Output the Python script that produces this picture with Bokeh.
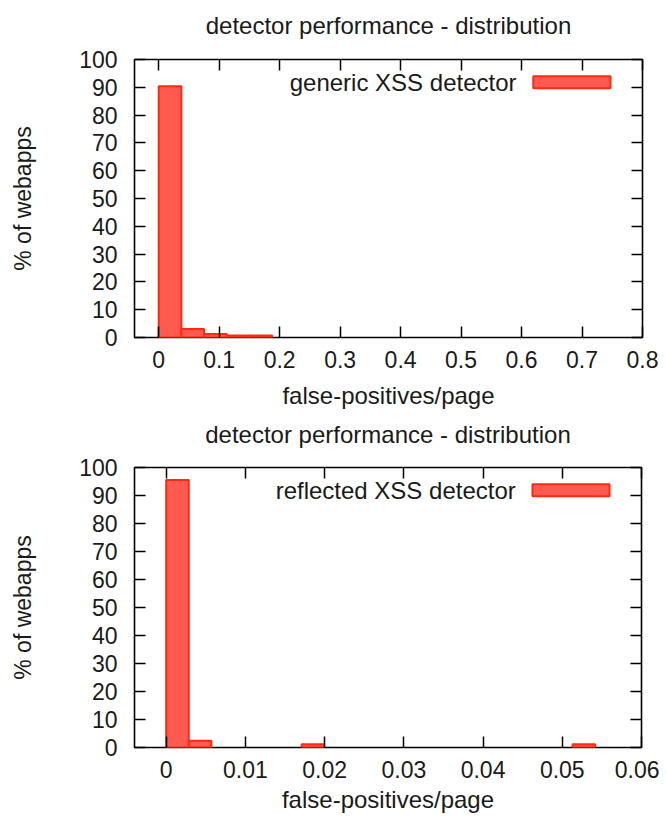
from bokeh.plotting import figure
from bokeh.layouts import column
from bokeh.models import LinearAxis, FixedTicker, Range1d, Label, BoxAnnotation, CustomJSTickFormatter
from bokeh.embed import file_html
from bokeh.resources import INLINE

# ---- data ----
title_text = "detector performance - distribution"
x_label = "false-positives/page"
y_label = "% of webapps"

# generic XSS detector
gen_left = [0.0, 0.0375, 0.075, 0.1125, 0.15]
gen_right = [0.0375, 0.075, 0.1125, 0.15, 0.1875]
gen_pct = [90.4, 3.1, 1.3, 0.7, 0.7]
gen_xticks = [0, 0.1, 0.2, 0.3, 0.4, 0.5, 0.6, 0.7, 0.8]
gen_xtick_labels = ["0", "0.1", "0.2", "0.3", "0.4", "0.5", "0.6", "0.7", "0.8"]

# reflected XSS detector
ref_left = [0.0, 0.00285, 0.0171, 0.0513]
ref_right = [0.00285, 0.0057, 0.01995, 0.05415]
ref_pct = [95.5, 2.4, 1.2, 1.2]
ref_xticks = [0, 0.01, 0.02, 0.03, 0.04, 0.05, 0.06]
ref_xtick_labels = ["0", "0.01", "0.02", "0.03", "0.04", "0.05", "0.06"]

yticks = [0, 10, 20, 30, 40, 50, 60, 70, 80, 90, 100]

FONT = "Liberation Sans"
FS = "24px"
FS_TICK = "23px"
FS_YLAB = "23px"
TXT = "#1a1a1a"
FILL = "#ff5a50"
EDGE = "#ff2a12"


def make_plot(left, right, pct, xr, xticks, xlabels, legend_text,
              border_left, frame_w, border_right, border_top, frame_h, border_bottom,
              title_standoff, xl_standoff, xlab_standoff):
    p = figure(width=border_left + frame_w + border_right,
               height=border_top + frame_h + border_bottom,
               frame_width=frame_w, frame_height=frame_h,
               min_border_left=border_left, min_border_right=border_right,
               min_border_top=border_top, min_border_bottom=border_bottom,
               x_range=Range1d(*xr), y_range=Range1d(0, 100),
               output_backend="svg", toolbar_location=None)

    p.grid.visible = False
    p.outline_line_color = "black"
    p.outline_line_width = 1.6
    p.background_fill_color = "white"
    p.border_fill_color = "white"

    p.quad(left=left, right=right, top=pct, bottom=0,
           fill_color=FILL, line_color=EDGE, line_width=2)

    # main axes
    xa = p.xaxis[0]
    ya = p.yaxis[0]
    xa.ticker = FixedTicker(ticks=xticks)
    xa.major_label_overrides = {t: l for t, l in zip(xticks, xlabels)}
    ya.ticker = FixedTicker(ticks=yticks)
    for ax in (xa, ya):
        ax.axis_line_color = None
        ax.major_tick_in = 11
        ax.major_tick_out = 0
        ax.major_tick_line_width = 1.5
        ax.minor_tick_line_color = None
        ax.major_label_text_font = FONT
        ax.major_label_text_font_size = FS_TICK
        ax.major_label_text_color = TXT
        ax.axis_label_text_font = FONT
        ax.axis_label_text_font_style = "normal"
        ax.axis_label_text_color = TXT
    xa.axis_label_text_font_size = FS
    ya.axis_label_text_font_size = FS_YLAB
    xa.axis_label = x_label
    ya.axis_label = y_label
    xa.major_label_standoff = xl_standoff
    xa.axis_label_standoff = xlab_standoff
    ya.major_label_standoff = 17
    ya.axis_label_standoff = 40

    # mirrored ticks (gnuplot style), no tick labels; the top one carries the title
    for loc, ticks in (("above", xticks), ("right", yticks)):
        m = LinearAxis(ticker=FixedTicker(ticks=ticks),
                       formatter=CustomJSTickFormatter(code="return ''"))
        m.axis_line_color = None
        m.major_tick_in = 11
        m.major_tick_out = 0
        m.major_tick_line_width = 1.5
        m.minor_tick_line_color = None
        m.major_label_standoff = 0
        if loc == "above":
            m.axis_label = title_text
            m.axis_label_text_font = FONT
            m.axis_label_text_font_size = FS
            m.axis_label_text_font_style = "normal"
            m.axis_label_text_color = TXT
            m.axis_label_standoff = title_standoff
        p.add_layout(m, loc)

    # key in the top right corner: text, then swatch
    x0, x1 = xr
    span = x1 - x0
    p.add_layout(Label(x=x0 + 0.752 * span, y=91.8, text=legend_text,
                       text_align="right", text_baseline="middle",
                       text_font=FONT, text_font_size=FS, text_color=TXT))
    p.add_layout(BoxAnnotation(left=x0 + 0.785 * span, right=x0 + 0.937 * span,
                               bottom=89.7, top=94.0,
                               fill_color=FILL, fill_alpha=1.0,
                               line_color=EDGE, line_width=2, line_alpha=1.0))
    return p


p1 = make_plot(gen_left, gen_right, gen_pct, (-0.04, 0.8), gen_xticks, gen_xtick_labels,
               "generic XSS detector", 134, 508, 17, 59, 278, 78, 21, 13, 11)
p2 = make_plot(ref_left, ref_right, ref_pct, (-0.004, 0.06), ref_xticks, ref_xtick_labels,
               "reflected XSS detector", 129, 507, 23, 52, 280, 69, 20, 13, 5)

layout = column(p1, p2, spacing=0)
open("out.html", "w").write(file_html(layout, INLINE))
